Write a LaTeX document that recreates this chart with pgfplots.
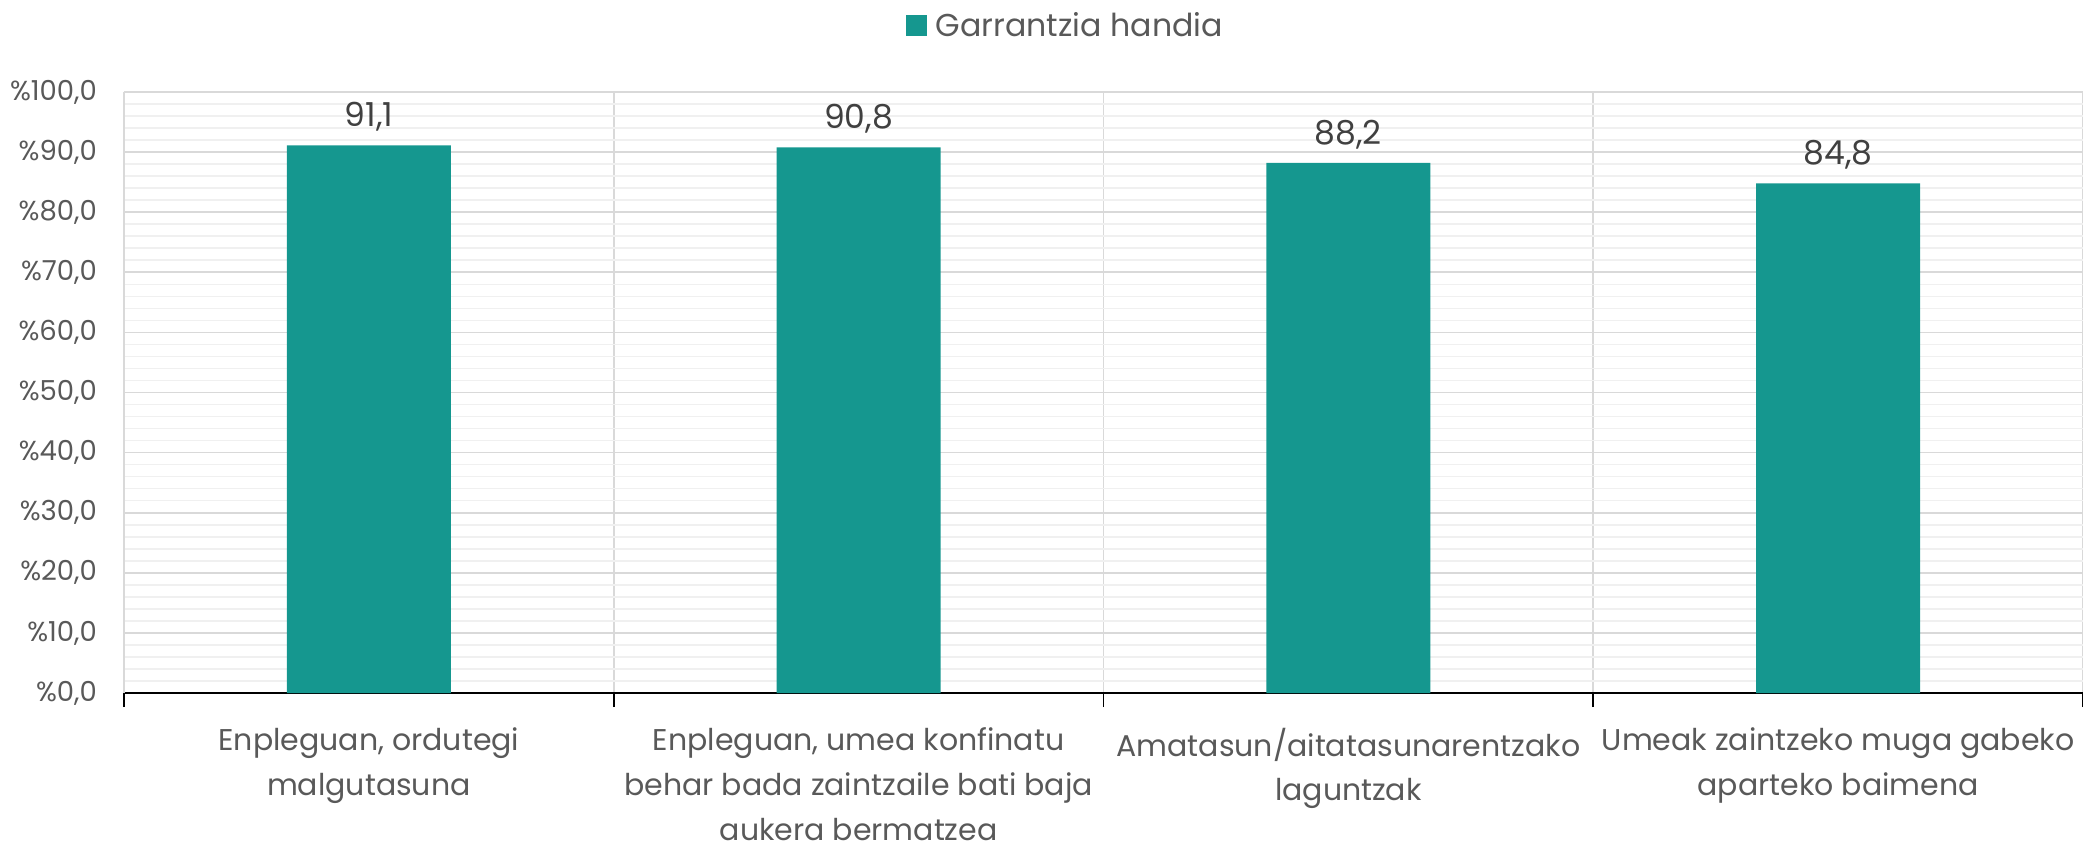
\documentclass[border=0pt]{standalone}
\usepackage{pgfplots}
\pgfplotsset{compat=1.18}
\usepackage{fontspec}
\setmainfont{Poppins}
\definecolor{teal1}{RGB}{21,151,143}
\definecolor{txt}{RGB}{89,89,89}
\definecolor{lbl}{RGB}{64,64,64}
\definecolor{majgrid}{RGB}{217,217,217}
\definecolor{mingrid}{RGB}{240,240,240}
\begin{document}
\begin{tikzpicture}
\path[use as bounding box] (-62pt,-74pt) rectangle (979.5pt,346.5pt);
\begin{axis}[
 at={(0,0)}, anchor=south west,
 scale only axis, width=979.5pt, height=300.5pt,
 xmin=-0.5, xmax=3.5, ymin=0, ymax=100,
 ybar,
 axis x line*=bottom, axis y line*=left,
 x axis line style={black, line width=1pt},
 y axis line style={majgrid, line width=0.8pt},
 xtick={-0.5,0.5,1.5,2.5,3.5}, xticklabels={},
 xmajorgrids, major x grid style={majgrid, line width=0.8pt},
 tick align=outside,
 xtick style={black, line width=0.8pt},
 major tick length=7pt, minor tick length=0pt,
 extra x ticks={0,1,2,3},
 extra x tick labels={{Enpleguan, ordutegi\\malgutasuna},{Enpleguan, umea konfinatu\\behar bada zaintzaile bati baja\\aukera bermatzea},{Amatasun/aitatasunarentzako\\laguntzak},{Umeak zaintzeko muga gabeko\\aparteko baimena}},
 extra x tick style={grid=none, major tick length=0pt, tick style={draw=none},
   tick label style={align=center, text=txt, font=\fontsize{15}{22.3}\selectfont, yshift=-14pt}},
 ytick={0,10,...,100},
 yticklabels={{\%0,0},{\%10,0},{\%20,0},{\%30,0},{\%40,0},{\%50,0},{\%60,0},{\%70,0},{\%80,0},{\%90,0},{\%100,0}},
 yticklabel style={text=txt, font=\fontsize{13.75}{16}\selectfont, xshift=-3pt},
 /pgf/number format/assume math mode=true,
 minor y tick num=4,
 ymajorgrids, yminorgrids,
 major y grid style={majgrid, line width=0.8pt},
 minor y grid style={mingrid, line width=0.8pt},
 ytick style={draw=none},
 legend style={at={(0.481,1)}, anchor=center, yshift=33pt, draw=none, fill=none,
   font=\fontsize{15.8}{18}\selectfont, text=txt},
 legend image code/.code={\fill[teal1] (0pt,-5.25pt) rectangle (10.5pt,5.25pt); \path (13pt,0pt);},
]
\addplot[fill=teal1, draw=none, bar width=0.335,
  nodes near coords={\pgfmathprintnumber[fixed,fixed zerofill,precision=1,use comma]{\pgfplotspointmeta}},
  every node near coord/.append style={text=lbl, font=\fontsize{16.5}{20}\selectfont, yshift=3.5pt}]
  coordinates {(0,91.1) (1,90.8) (2,88.2) (3,84.8)};
\addlegendentry{Garrantzia handia}
\end{axis}
\end{tikzpicture}
\end{document}
